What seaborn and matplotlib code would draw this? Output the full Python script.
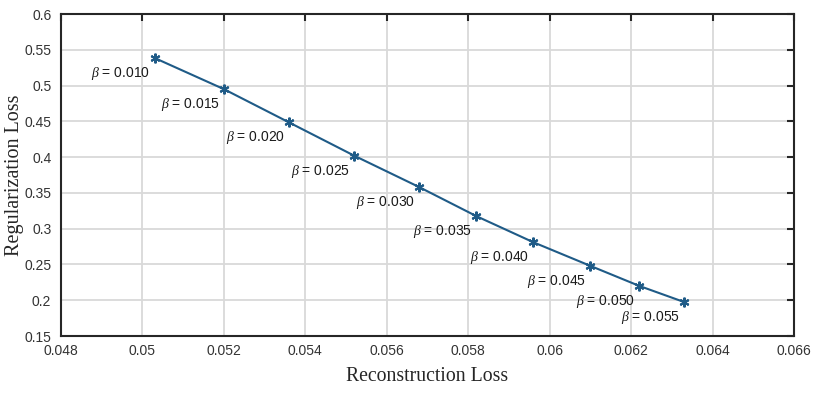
import matplotlib
matplotlib.use("Agg")
import matplotlib.pyplot as plt
import seaborn as sns
import pandas as pd

betas = ["0.010", "0.015", "0.020", "0.025", "0.030", "0.035", "0.040", "0.045", "0.050", "0.055"]
recon_loss = [0.0503, 0.0520, 0.0536, 0.0552, 0.0568, 0.0582, 0.0596, 0.0610, 0.0622, 0.0633]
reg_loss = [0.5385, 0.4950, 0.4485, 0.4020, 0.3580, 0.3175, 0.2810, 0.2480, 0.2200, 0.1975]
x_ticks = [0.048, 0.05, 0.052, 0.054, 0.056, 0.058, 0.06, 0.062, 0.064, 0.066]
x_ticklabels = ["0.048", "0.05", "0.052", "0.054", "0.056", "0.058", "0.06", "0.062", "0.064", "0.066"]
y_ticks = [0.15, 0.2, 0.25, 0.3, 0.35, 0.4, 0.45, 0.5, 0.55, 0.6]
y_ticklabels = ["0.15", "0.2", "0.25", "0.3", "0.35", "0.4", "0.45", "0.5", "0.55", "0.6"]

df = pd.DataFrame({"recon": recon_loss, "reg": reg_loss, "beta": betas})

sns.set_theme(style="white")
plt.rcParams["font.family"] = ["Liberation Sans", "DejaVu Sans"]
plt.rcParams["mathtext.fontset"] = "custom"
plt.rcParams["mathtext.it"] = "Liberation Serif:italic"

fig = plt.figure(figsize=(8.22, 3.96), dpi=100)
ax = fig.add_axes([61 / 822, 1 - 336 / 396, (794 - 61) / 822, (336 - 14) / 396])

color = "#1f5b87"
sns.lineplot(data=df, x="recon", y="reg", ax=ax, color=color, linewidth=1.5,
             marker=(6, 2, 0), markersize=7, markeredgewidth=1.5,
             markeredgecolor=color, sort=False)

for xv, yv, b in zip(recon_loss, reg_loss, betas):
    ax.annotate(r"$\beta$ = " + b, (xv, yv), xytext=(-3, -5), textcoords="offset points",
                ha="right", va="top", fontsize=10, color="#1a1a1a")

ax.set_xlim(0.048, 0.066)
ax.set_ylim(0.15, 0.6)
ax.set_xticks(x_ticks)
ax.set_xticklabels(x_ticklabels)
ax.set_yticks(y_ticks)
ax.set_yticklabels(y_ticklabels)
ax.grid(True, color="#d9d9d9", linewidth=1.3)
ax.tick_params(direction="in", top=True, right=True, length=5, width=1.5,
               color="#262626", labelsize=10, labelcolor="#333333")
ax.tick_params(axis="x", pad=6)
ax.tick_params(axis="y", pad=7)
for s in ax.spines.values():
    s.set_visible(True)
    s.set_linewidth(1.5)
    s.set_color("#262626")

ax.set_xlabel("Reconstruction Loss", fontsize=14.2, family="Liberation Serif", color="#262626", labelpad=6)
ax.set_ylabel("Regularization Loss", fontsize=14.5, family="Liberation Serif", color="#262626", labelpad=0)

fig.savefig("out.png", dpi=100)
